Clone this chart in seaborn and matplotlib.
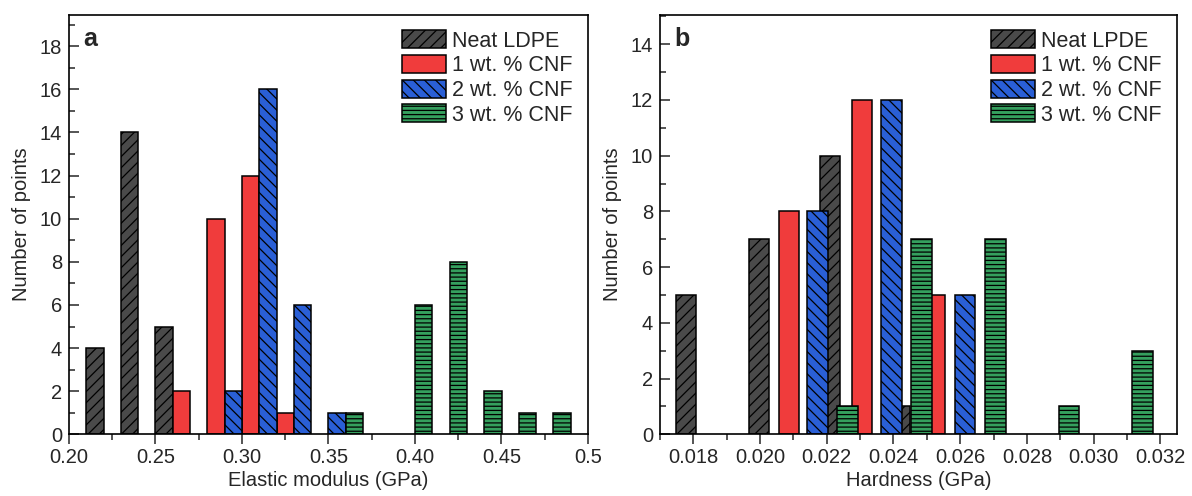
import numpy as np
import pandas as pd
import matplotlib
matplotlib.use("Agg")
import matplotlib.pyplot as plt
from matplotlib.patches import Patch
from matplotlib.ticker import MultipleLocator
import seaborn as sns

# ---------------- data ----------------
series_labels_a = ["Neat LDPE", "1 wt. % CNF", "2 wt. % CNF", "3 wt. % CNF"]
series_labels_b = ["Neat LPDE", "1 wt. % CNF", "2 wt. % CNF", "3 wt. % CNF"]

# Panel a: elastic modulus (GPa) bin centres and counts
mod_neat_x = [0.215, 0.235, 0.255]
mod_neat_n = [4, 14, 5]
mod_1_x = [0.265, 0.285, 0.305, 0.325]
mod_1_n = [2, 10, 12, 1]
mod_2_x = [0.295, 0.315, 0.335, 0.355]
mod_2_n = [2, 16, 6, 1]
mod_3_x = [0.365, 0.405, 0.425, 0.445, 0.465, 0.485]
mod_3_n = [1, 6, 8, 2, 1, 1]

# Panel b: hardness (GPa) bin centres and counts
hard_neat_x = [0.01778, 0.01997, 0.02210, 0.02420]
hard_neat_n = [5, 7, 10, 1]
hard_1_x = [0.02087, 0.02306, 0.02522]
hard_1_n = [8, 12, 5]
hard_2_x = [0.02172, 0.02394, 0.02614]
hard_2_n = [8, 12, 5]
hard_3_x = [0.02263, 0.02484, 0.02705, 0.02926, 0.03147]
hard_3_n = [1, 7, 7, 1, 3]

mod_ticks = [0.20, 0.25, 0.30, 0.35, 0.40, 0.45, 0.50]
mod_ticklabels = ["0.20", "0.25", "0.30", "0.35", "0.40", "0.45", "0.5"]
hard_ticks = [0.018, 0.020, 0.022, 0.024, 0.026, 0.028, 0.030, 0.032]
hard_ticklabels = ["0.018", "0.020", "0.022", "0.024", "0.026", "0.028", "0.030", "0.032"]

# ---------------- style ----------------
sns.set_style("white")
plt.rcParams['font.family'] = ['Liberation Sans', 'DejaVu Sans']
plt.rcParams['hatch.linewidth'] = 0.9

colors = ["#4a4a4a", "#f03c3c", "#2a5fd6", "#35a05e"]
hatches = ["///", "", "\\\\\\", "----"]

fig = plt.figure(figsize=(11.92, 4.96), dpi=100)
ax1 = fig.add_axes([69 / 1192, 61.7 / 496, 519 / 1192, 419.3 / 496])
ax2 = fig.add_axes([660 / 1192, 61.7 / 496, 517 / 1192, 419.3 / 496])


def draw_series(ax, xs, ns, color, hatch, bar_w):
    df = pd.DataFrame({"x": xs, "n": ns})
    native = np.min(np.diff(sorted(xs))) if len(xs) > 1 else 1.0
    before = len(ax.patches)
    sns.barplot(data=df, x="x", y="n", native_scale=True, orient="x",
                width=bar_w / native, color=color, saturation=1,
                edgecolor="black", linewidth=1.1, errorbar=None, ax=ax)
    for p in ax.patches[before:]:
        p.set_hatch(hatch)
        p.set_edgecolor("black")


panel_a = [(mod_neat_x, mod_neat_n), (mod_1_x, mod_1_n), (mod_2_x, mod_2_n), (mod_3_x, mod_3_n)]
panel_b = [(hard_neat_x, hard_neat_n), (hard_1_x, hard_1_n), (hard_2_x, hard_2_n), (hard_3_x, hard_3_n)]

for (xs, ns), c, h in zip(panel_a, colors, hatches):
    draw_series(ax1, xs, ns, c, h, 0.01)
for (xs, ns), c, h in zip(panel_b, colors, hatches):
    draw_series(ax2, xs, ns, c, h, 0.00062)


def style_axes(ax, xlim, ylim, xticks, xticklabels, xminor, xlabel, letter, labels):
    ax.set_xlim(*xlim)
    ax.set_ylim(*ylim)
    ax.set_xticks(xticks)
    ax.set_xticklabels(xticklabels)
    ax.xaxis.set_minor_locator(MultipleLocator(xminor))
    ax.yaxis.set_major_locator(MultipleLocator(2))
    ax.yaxis.set_minor_locator(MultipleLocator(1))
    ax.tick_params(axis="x", which="major", direction="out", length=7, width=1.1,
                   labelsize=14.5, pad=3, bottom=True, top=False)
    ax.tick_params(axis="x", which="minor", direction="out", length=4, width=1.1,
                   bottom=True, top=False)
    ax.tick_params(axis="y", which="major", direction="in", length=7, width=1.1,
                   labelsize=14.5, pad=5, left=True, right=False)
    ax.tick_params(axis="y", which="minor", direction="in", length=4, width=1.1,
                   left=True, right=False)
    for s in ax.spines.values():
        s.set_visible(True)
        s.set_color("black")
        s.set_linewidth(1.2)
    ax.set_xlabel(xlabel, fontsize=14.5, labelpad=3)
    ax.set_ylabel("Number of points", fontsize=14.5, labelpad=6)
    ax.text(0.027, 0.972, letter, transform=ax.transAxes, fontsize=18,
            fontweight="bold", ha="left", va="top")
    handles = [Patch(facecolor=c, edgecolor="black", hatch=h, linewidth=1.1, label=l)
               for c, h, l in zip(colors, hatches, labels)]
    ax.legend(handles=handles, loc="upper right", frameon=False, fontsize=15.5,
              handlelength=2.05, handleheight=0.92, handletextpad=0.3,
              labelspacing=0.15, borderaxespad=0.25, borderpad=0.45)


style_axes(ax1, (0.20, 0.50), (0, 19.45), mod_ticks, mod_ticklabels, 0.025,
           "Elastic modulus (GPa)", "a", series_labels_a)
style_axes(ax2, (0.017, 0.0325), (0, 15.05), hard_ticks, hard_ticklabels, 0.001,
           "Hardness (GPa)", "b", series_labels_b)

fig.savefig("out.png", dpi=100, facecolor="white")
